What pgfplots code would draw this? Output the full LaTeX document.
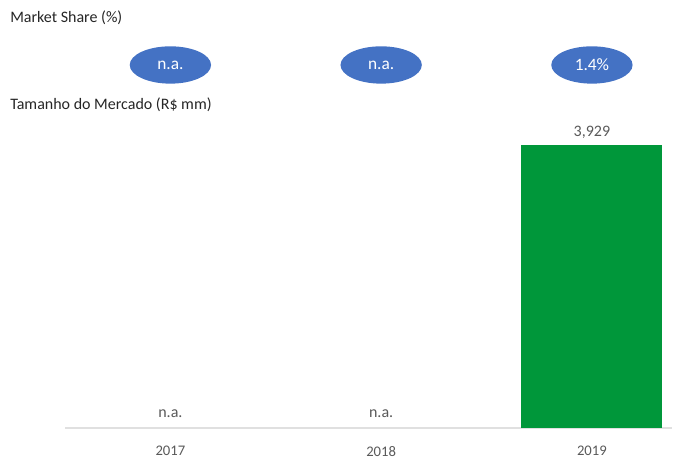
\documentclass[border=0pt]{standalone}
\usepackage{pgfplots}
\pgfplotsset{compat=1.18}
\usepackage{fontspec}
\setmainfont{Carlito}
\usetikzlibrary{shapes.geometric}
\definecolor{msblue}{HTML}{4472C4}
\definecolor{bargreen}{HTML}{00973A}
\definecolor{txtgray}{HTML}{595959}
\begin{document}
\begin{tikzpicture}
\begin{axis}[
  scale only axis,
  width=455.25pt, height=212.25pt,
  xmin=-0.5, xmax=2.38,
  ymin=0, ymax=3929,
  clip=false,
  hide y axis,
  axis x line*=bottom,
  x axis line style={draw=black!12, line width=0.8pt},
  xtick={0,1,2},
  xticklabels={2017,2018,2019},
  major tick length=0pt,
  xticklabel style={text=txtgray, font=\fontsize{11}{13}\selectfont, yshift=-10pt},
  /pgf/number format/assume math mode=true,
]
\addplot[ybar, bar width=105.75pt, fill=bargreen, draw=none,
  nodes near coords, point meta=explicit symbolic,
  nodes near coords style={text=txtgray, font=\fontsize{12}{14}\selectfont, yshift=1pt}]
  coordinates {(2,3929) [3,929]};
\addplot[draw=none, mark=none,
  nodes near coords, point meta=explicit symbolic,
  nodes near coords style={text=txtgray, font=\fontsize{12}{14}\selectfont, anchor=center, yshift=11pt}]
  coordinates {(0,0) [n.a.] (1,0) [n.a.]};
\addplot[draw=none, mark=none,
  nodes near coords, point meta=explicit symbolic,
  nodes near coords style={ellipse, fill=msblue, text=white, anchor=center,
    minimum width=61pt, minimum height=28pt, inner sep=0pt,
    font=\fontsize{13}{15}\selectfont}]
  coordinates {(0,5040) [n.a.] (1,5040) [n.a.] (2,5040) [1.4\%]};
\node[anchor=west, inner sep=0pt, text=black!85, font=\fontsize{12}{14}\selectfont] at (rel axis cs:-0.0906,1.449) {Market Share (\%)};
\node[anchor=west, inner sep=0pt, text=black!85, font=\fontsize{12}{14}\selectfont] at (rel axis cs:-0.0906,1.141) {Tamanho do Mercado (R\$ mm)};
\path (rel axis cs:-0.1071,-0.1025) rectangle (rel axis cs:1.0214,1.5124);
\end{axis}
\end{tikzpicture}
\end{document}
